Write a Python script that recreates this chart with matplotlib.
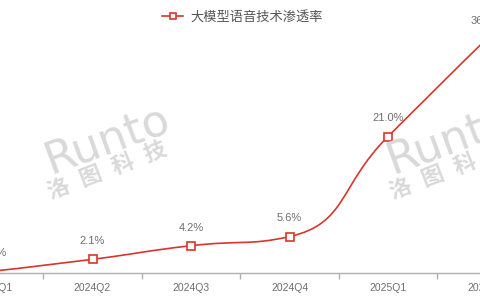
import matplotlib.pyplot as plt
import numpy as np
from matplotlib.path import Path
from matplotlib.patches import PathPatch
from matplotlib.lines import Line2D

quarters = ['2024Q1', '2024Q2', '2024Q3', '2024Q4', '2025Q1', '2025Q2']
rate = [0.3, 2.1, 4.2, 5.6, 21.0, 36.0]
labels = ['0.3%', '2.1%', '4.2%', '5.6%', '21.0%', '36.0%']

red = '#d9352c'
grey = '#6e6e6e'
fonts = ['Liberation Sans', 'Noto Sans CJK SC', 'DejaVu Sans']
plt.rcParams['font.family'] = fonts

fig = plt.figure(figsize=(4.8, 3.0), dpi=100)
# the axes runs past both figure edges, as in the cropped original
step = 98.5
left_px = -6 - 0.5 * step
ax = fig.add_axes([left_px / 480, 27 / 300, 6 * step / 480, 273 / 300])

x = np.arange(len(rate), dtype=float)
y = np.array(rate, dtype=float)

# smooth line like echarts, control points clamped to each segment's box
sy = 6.5 / step
pts = np.column_stack([x, y * sy])
smooth = 0.5
n = len(pts)
cp_in = [pts[i].copy() for i in range(n)]
cp_out = [pts[i].copy() for i in range(n)]
for i in range(1, n - 1):
    p, prev, nxt = pts[i], pts[i - 1], pts[i + 1]
    v = nxt - prev
    l0 = np.hypot(*(p - prev))
    l1 = np.hypot(*(nxt - p))
    r = l1 / (l0 + l1)
    c1 = p + v * smooth * r
    c1 = np.minimum(c1, np.maximum(nxt, p))
    c1 = np.maximum(c1, np.minimum(nxt, p))
    c0 = p - (c1 - p) * l0 / l1
    c0 = np.minimum(c0, np.maximum(prev, p))
    c0 = np.maximum(c0, np.minimum(prev, p))
    c1 = p + (p - c0) * l1 / l0
    cp_in[i], cp_out[i] = c0, c1
verts = [pts[0]]
codes = [Path.MOVETO]
for i in range(n - 1):
    verts += [cp_out[i], cp_in[i + 1], pts[i + 1]]
    codes += [Path.CURVE4] * 3
verts = np.array(verts)
verts[:, 1] /= sy
ax.add_patch(PathPatch(Path(verts, codes), facecolor='none', edgecolor=red, lw=1.2, zorder=2))
ax.plot(x, y, ls='none', marker='s', ms=5.5, mfc='white', mec=red, mew=1.2, zorder=3)

for xi, yi, t in zip(x, y, labels):
    ax.annotate(t, (xi, yi), xytext=(0, 9.5), textcoords='offset points',
                ha='center', va='bottom', fontsize=8, color=grey)

ax.set_xticks(x)
ax.set_xticklabels(quarters, fontsize=7.5, color=grey)
ax.set_xticks(np.arange(-0.5, 6, 1.0), minor=True)
ax.tick_params(axis='x', which='major', length=0, pad=7)
ax.tick_params(axis='x', which='minor', length=4, color='#b0b0b0', width=1)
ax.set_yticks([])
ax.set_xlim(-0.5, 5.5)
ax.set_ylim(0, 42)
for s in ['top', 'right', 'left']:
    ax.spines[s].set_visible(False)
ax.spines['bottom'].set_color('#b0b0b0')
ax.spines['bottom'].set_linewidth(1)

handle = Line2D([], [], color=red, lw=1.2, marker='s', ms=5, mfc='white', mec=red, mew=1.2)
fig.legend([handle], ['大模型语音技术渗透率'], loc='upper center', bbox_to_anchor=(0.505, 1.005),
           frameon=False, fontsize=9.5, handlelength=1.6, handletextpad=0.5,
           labelcolor='#555555')

# watermarks
for dx in [0, 342]:
    fig.text((107 + dx) / 480, 1 - 140 / 300, 'Runto', fontsize=32, color='#d9d9d9',
             rotation=20, ha='center', va='center', family='DejaVu Sans', zorder=0)
    fig.text((108 + dx) / 480, 1 - 172 / 300, '洛  图  科  技', fontsize=16, color='#d9d9d9',
             rotation=21, ha='center', va='center', fontweight='bold', zorder=0)

fig.savefig('out.png', dpi=100)
